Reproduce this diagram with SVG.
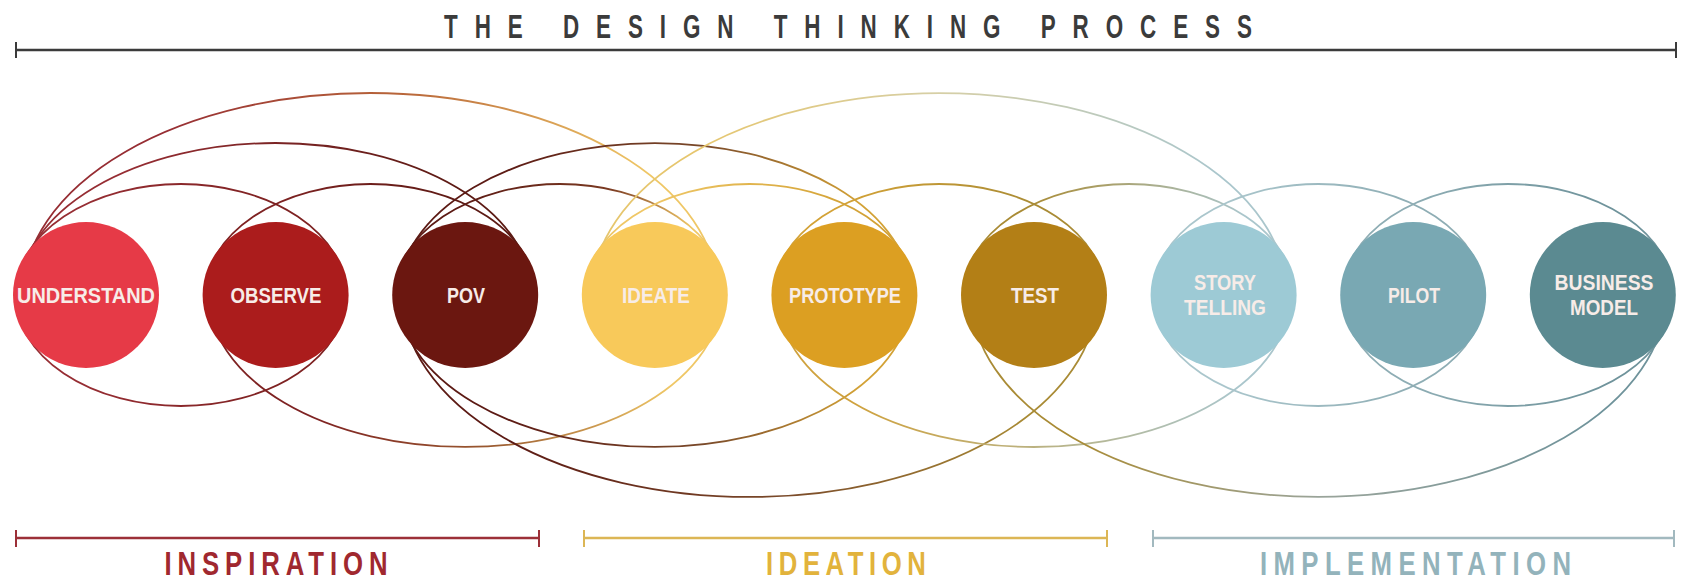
<svg xmlns="http://www.w3.org/2000/svg" width="1685" height="579" viewBox="0 0 1685 579">
<style>
  .arc { fill: none; stroke-width: 1.8; }
  .lbl { font-family: "Liberation Sans", Arial, sans-serif; font-weight: bold; font-size: 21.5px; text-anchor: middle; fill: #f7ece8; }
  .head { font-family: "Liberation Sans", Arial, sans-serif; font-weight: bold; font-size: 33px; text-anchor: middle; }
  .rule { fill: none; stroke-width: 2.6; }
  .tick { fill: none; stroke-width: 2; }
</style>
<defs>
  <linearGradient id="g-U-O" gradientUnits="userSpaceOnUse" x1="15" y1="0" x2="346" y2="0"><stop offset="0.2" stop-color="#962d33"/><stop offset="0.8" stop-color="#7e2222"/></linearGradient>
  <linearGradient id="g-U-P" gradientUnits="userSpaceOnUse" x1="19" y1="0" x2="532" y2="0"><stop offset="0.2" stop-color="#962d33"/><stop offset="0.85" stop-color="#5c1a14"/></linearGradient>
  <linearGradient id="g-U-I" gradientUnits="userSpaceOnUse" x1="23" y1="0" x2="718" y2="0"><stop offset="0.2" stop-color="#962d33"/><stop offset="0.55" stop-color="#b9673a"/><stop offset="0.9" stop-color="#efc766"/></linearGradient>
  <linearGradient id="g-O-P" gradientUnits="userSpaceOnUse" x1="205" y1="0" x2="536" y2="0"><stop offset="0.2" stop-color="#7e2222"/><stop offset="0.8" stop-color="#5c1a14"/></linearGradient>
  <linearGradient id="g-O-I" gradientUnits="userSpaceOnUse" x1="209" y1="0" x2="722" y2="0"><stop offset="0.2" stop-color="#7e2222"/><stop offset="0.55" stop-color="#9a5a30"/><stop offset="0.9" stop-color="#efc766"/></linearGradient>
  <linearGradient id="g-P-I" gradientUnits="userSpaceOnUse" x1="395" y1="0" x2="725" y2="0"><stop offset="0.2" stop-color="#5c1a14"/><stop offset="0.65" stop-color="#7a3a22"/><stop offset="0.9" stop-color="#efc766"/></linearGradient>
  <linearGradient id="g-P-R" gradientUnits="userSpaceOnUse" x1="398" y1="0" x2="911" y2="0"><stop offset="0.2" stop-color="#5c1a14"/><stop offset="0.6" stop-color="#7a4a2a"/><stop offset="0.9" stop-color="#d3a236"/></linearGradient>
  <linearGradient id="g-P-T" gradientUnits="userSpaceOnUse" x1="402" y1="0" x2="1097" y2="0"><stop offset="0.15" stop-color="#5c1a14"/><stop offset="0.55" stop-color="#7a4a2a"/><stop offset="0.9" stop-color="#a98b35"/></linearGradient>
  <linearGradient id="g-I-R" gradientUnits="userSpaceOnUse" x1="584" y1="0" x2="915" y2="0"><stop offset="0.2" stop-color="#efc766"/><stop offset="0.8" stop-color="#d3a236"/></linearGradient>
  <linearGradient id="g-I-S" gradientUnits="userSpaceOnUse" x1="592" y1="0" x2="1287" y2="0"><stop offset="0.15" stop-color="#e6c66e"/><stop offset="0.5" stop-color="#d6cfa6"/><stop offset="0.9" stop-color="#aac6cc"/></linearGradient>
  <linearGradient id="g-R-T" gradientUnits="userSpaceOnUse" x1="774" y1="0" x2="1105" y2="0"><stop offset="0.2" stop-color="#d3a236"/><stop offset="0.8" stop-color="#a98b35"/></linearGradient>
  <linearGradient id="g-R-S" gradientUnits="userSpaceOnUse" x1="778" y1="0" x2="1290" y2="0"><stop offset="0.15" stop-color="#cfa23e"/><stop offset="0.55" stop-color="#b8b48a"/><stop offset="0.9" stop-color="#aac6cc"/></linearGradient>
  <linearGradient id="g-T-S" gradientUnits="userSpaceOnUse" x1="963" y1="0" x2="1294" y2="0"><stop offset="0.2" stop-color="#a98b35"/><stop offset="0.85" stop-color="#aac6cc"/></linearGradient>
  <linearGradient id="g-T-B" gradientUnits="userSpaceOnUse" x1="971" y1="0" x2="1666" y2="0"><stop offset="0.15" stop-color="#a98b35"/><stop offset="0.5" stop-color="#9aa49a"/><stop offset="0.9" stop-color="#6f939b"/></linearGradient>
  <linearGradient id="g-S-I" gradientUnits="userSpaceOnUse" x1="1153" y1="0" x2="1484" y2="0"><stop offset="0.2" stop-color="#aac6cc"/><stop offset="0.8" stop-color="#8eadb4"/></linearGradient>
  <linearGradient id="g-I-B" gradientUnits="userSpaceOnUse" x1="1343" y1="0" x2="1673" y2="0"><stop offset="0.2" stop-color="#8eadb4"/><stop offset="0.8" stop-color="#6f939b"/></linearGradient>
</defs>

<rect width="1685" height="579" fill="#ffffff"/>

<g id="title">
  <text class="head" transform="translate(848,38) scale(0.68,1)" fill="#3b3b3b" textLength="1188" lengthAdjust="spacing">THE DESIGN THINKING PROCESS</text>
  <line class="rule" x1="16" y1="50" x2="1676" y2="50" stroke="#3b3b3b"/>
  <line class="tick" x1="16" y1="42" x2="16" y2="58" stroke="#3b3b3b"/>
  <line class="tick" x1="1676" y1="42" x2="1676" y2="58" stroke="#3b3b3b"/>
</g>

<g id="connectors">
  <!-- top arcs -->
  <path class="arc" stroke="url(#g-U-O)" d="M15.4 295 A165.4 111 0 0 1 346.2 295"/>
  <path class="arc" stroke="url(#g-U-P)" d="M19.2 295 A256.4 152 0 0 1 532 295"/>
  <path class="arc" stroke="url(#g-U-I)" d="M22.9 295 A347.5 202 0 0 1 717.9 295"/>
  <path class="arc" stroke="url(#g-O-P)" d="M205 295 A165.4 111 0 0 1 535.8 295"/>
  <path class="arc" stroke="url(#g-P-I)" d="M394.6 295 A165.4 111 0 0 1 725.4 295"/>
  <path class="arc" stroke="url(#g-P-R)" d="M398.4 295 A256.4 152 0 0 1 911.2 295"/>
  <path class="arc" stroke="url(#g-I-R)" d="M584.2 295 A165.4 111 0 0 1 915 295"/>
  <path class="arc" stroke="url(#g-I-S)" d="M591.7 295 A347.5 202 0 0 1 1286.7 295"/>
  <path class="arc" stroke="url(#g-R-T)" d="M773.8 295 A165.4 111 0 0 1 1104.6 295"/>
  <path class="arc" stroke="url(#g-T-S)" d="M963.4 295 A165.4 111 0 0 1 1294.2 295"/>
  <path class="arc" stroke="url(#g-S-I)" d="M1153 295 A165.4 111 0 0 1 1483.8 295"/>
  <path class="arc" stroke="url(#g-I-B)" d="M1342.6 295 A165.4 111 0 0 1 1673.4 295"/>
  <!-- bottom arcs -->
  <path class="arc" stroke="url(#g-U-O)" d="M15.4 295 A165.4 111 0 0 0 346.2 295"/>
  <path class="arc" stroke="url(#g-O-I)" d="M208.8 295 A256.4 152 0 0 0 721.6 295"/>
  <path class="arc" stroke="url(#g-P-R)" d="M398.4 295 A256.4 152 0 0 0 911.2 295"/>
  <path class="arc" stroke="url(#g-P-T)" d="M402.1 295 A347.5 202 0 0 0 1097.1 295"/>
  <path class="arc" stroke="url(#g-R-S)" d="M777.6 295 A256.4 152 0 0 0 1290.4 295"/>
  <path class="arc" stroke="url(#g-T-B)" d="M970.9 295 A347.5 202 0 0 0 1665.9 295"/>
  <path class="arc" stroke="url(#g-S-I)" d="M1153 295 A165.4 111 0 0 0 1483.8 295"/>
  <path class="arc" stroke="url(#g-I-B)" d="M1342.6 295 A165.4 111 0 0 0 1673.4 295"/>
</g>

<g id="node-understand">
  <circle cx="86" cy="295" r="73" fill="#e63a47"/>
  <text class="lbl" x="86" y="303" textLength="138" lengthAdjust="spacingAndGlyphs">UNDERSTAND</text>
</g>
<g id="node-observe">
  <circle cx="275.6" cy="295" r="73" fill="#ab1c1c"/>
  <text class="lbl" x="276" y="303" textLength="91" lengthAdjust="spacingAndGlyphs">OBSERVE</text>
</g>
<g id="node-pov">
  <circle cx="465.2" cy="295" r="73" fill="#6b1710"/>
  <text class="lbl" x="466" y="303" textLength="38" lengthAdjust="spacingAndGlyphs">POV</text>
</g>
<g id="node-ideate">
  <circle cx="654.8" cy="295" r="73" fill="#f8c95a"/>
  <text class="lbl" x="656" y="303" textLength="68" lengthAdjust="spacingAndGlyphs" fill="#fdebbf">IDEATE</text>
</g>
<g id="node-prototype">
  <circle cx="844.4" cy="295" r="73" fill="#dc9f22"/>
  <text class="lbl" x="845" y="303" textLength="112" lengthAdjust="spacingAndGlyphs" fill="#f9e6c4">PROTOTYPE</text>
</g>
<g id="node-test">
  <circle cx="1034" cy="295" r="73" fill="#b37f16"/>
  <text class="lbl" x="1035" y="303" textLength="48" lengthAdjust="spacingAndGlyphs" fill="#f6e6c8">TEST</text>
</g>
<g id="node-storytelling">
  <circle cx="1223.6" cy="295" r="73" fill="#9dcad5"/>
  <text class="lbl" x="1225" y="290" textLength="62" lengthAdjust="spacingAndGlyphs" fill="#eef6f7">STORY</text>
  <text class="lbl" x="1225" y="315" textLength="82" lengthAdjust="spacingAndGlyphs" fill="#eef6f7">TELLING</text>
</g>
<g id="node-pilot">
  <circle cx="1413.2" cy="295" r="73" fill="#79a8b3"/>
  <text class="lbl" x="1414" y="303" textLength="52" lengthAdjust="spacingAndGlyphs" fill="#eef5f6">PILOT</text>
</g>
<g id="node-business-model">
  <circle cx="1602.8" cy="295" r="73" fill="#5b8a91"/>
  <text class="lbl" x="1604" y="290" textLength="99" lengthAdjust="spacingAndGlyphs" fill="#e9f2f3">BUSINESS</text>
  <text class="lbl" x="1604" y="315" textLength="68" lengthAdjust="spacingAndGlyphs" fill="#e9f2f3">MODEL</text>
</g>

<g id="phase-inspiration">
  <line class="rule" x1="16" y1="538" x2="539" y2="538" stroke="#9c3038"/>
  <line class="tick" x1="16" y1="530" x2="16" y2="547" stroke="#9c3038"/>
  <line class="tick" x1="539" y1="530" x2="539" y2="547" stroke="#9c3038"/>
  <text class="head" transform="translate(276,575) scale(0.78,1)" fill="#a0282f" textLength="286" lengthAdjust="spacing">INSPIRATION</text>
</g>
<g id="phase-ideation">
  <line class="rule" x1="584" y1="538" x2="1107" y2="538" stroke="#dcb655"/>
  <line class="tick" x1="584" y1="530" x2="584" y2="547" stroke="#dcb655"/>
  <line class="tick" x1="1107" y1="530" x2="1107" y2="547" stroke="#dcb655"/>
  <text class="head" transform="translate(846,575) scale(0.78,1)" fill="#e2b33c" textLength="205" lengthAdjust="spacing">IDEATION</text>
</g>
<g id="phase-implementation">
  <line class="rule" x1="1153" y1="538" x2="1674" y2="538" stroke="#a2b9bf"/>
  <line class="tick" x1="1153" y1="530" x2="1153" y2="547" stroke="#a2b9bf"/>
  <line class="tick" x1="1674" y1="530" x2="1674" y2="547" stroke="#a2b9bf"/>
  <text class="head" transform="translate(1415.5,575) scale(0.78,1)" fill="#93b3bb" textLength="399" lengthAdjust="spacing">IMPLEMENTATION</text>
</g>
</svg>
